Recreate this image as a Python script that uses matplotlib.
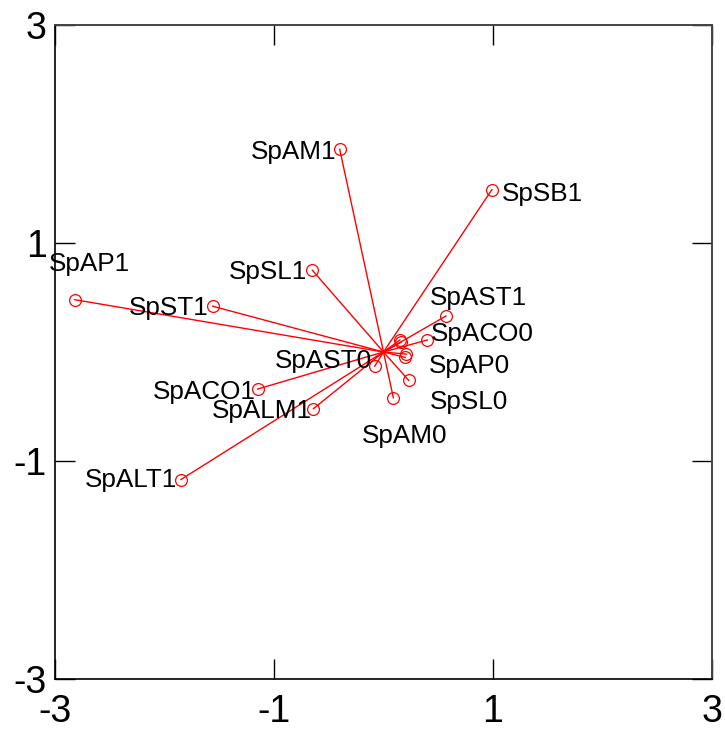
import matplotlib
matplotlib.use("Agg")
import matplotlib.pyplot as plt

plt.rcParams['font.family'] = ['Liberation Sans', 'DejaVu Sans']

# Data: biplot loadings (x, y)
names = ["SpAM1", "SpSB1", "SpAP1", "SpSL1", "SpST1", "SpAST1", "SpACO0",
         "SpAP0", "SpSL0", "SpAM0", "SpAST0", "SpACO1", "SpALM1", "SpALT1",
         "", "", ""]
xs = [-0.40, 0.99, -2.82, -0.65, -1.56, 0.57, 0.40,
      0.21, 0.23, 0.09, -0.08, -1.15, -0.64, -1.85,
      0.15, 0.16, 0.20]
ys = [1.86, 1.49, 0.48, 0.75, 0.42, 0.33, 0.11,
      -0.02, -0.26, -0.42, -0.13, -0.34, -0.52, -1.17,
      0.11, 0.09, -0.05]
ticks = [-3, -1, 1, 3]
tick_labels = ["-3", "-1", "1", "3"]

# Layout: label offsets in pixels (dx right, dy up)
offsets = {
    "SpAM1": (-46, -3), "SpSB1": (51, -4), "SpAP1": (15, 36),
    "SpSL1": (-44, -2), "SpST1": (-44, -2), "SpAST1": (32, 18),
    "SpACO0": (55, 6), "SpAP0": (63, -12), "SpSL0": (60, -22),
    "SpAM0": (11, -38), "SpAST0": (-51, 5), "SpACO1": (-53, -3),
    "SpALM1": (-52, -2), "SpALT1": (-50, 0),
}

fig = plt.figure(figsize=(7.25, 7.31), dpi=100)
ax = fig.add_axes([55/725, 52/731, 657/725, 654/731])

for x, y in zip(xs, ys):
    ax.plot([0, x], [0, y], color='red', lw=1.0, zorder=2)
ax.plot(xs, ys, 'o', mfc='none', mec='red', ms=8.5, mew=0.9, zorder=3)

for n, x, y in zip(names, xs, ys):
    if n:
        dx, dy = offsets[n]
        ax.annotate(n, (x, y), xytext=(dx, dy), textcoords='offset pixels',
                    ha='center', va='center', fontsize=18.8, color='black')

ax.set_xlim(-3, 3)
ax.set_ylim(-3, 3)
ax.set_xticks(ticks)
ax.set_xticklabels(tick_labels)
ax.set_yticks(ticks)
ax.set_yticklabels(tick_labels)
ax.tick_params(direction='in', length=14.5, width=1.0, top=True, right=True,
               labelsize=27, colors='black')
ax.tick_params(axis='x', pad=11)
ax.tick_params(axis='y', pad=6)
for s in ['left', 'bottom']:
    ax.spines[s].set_linewidth(1.2)
    ax.spines[s].set_color('black')
for s in ['top', 'right']:
    ax.spines[s].set_linewidth(1.4)
    ax.spines[s].set_color('#444444')

fig.savefig("out.png", dpi=100)
